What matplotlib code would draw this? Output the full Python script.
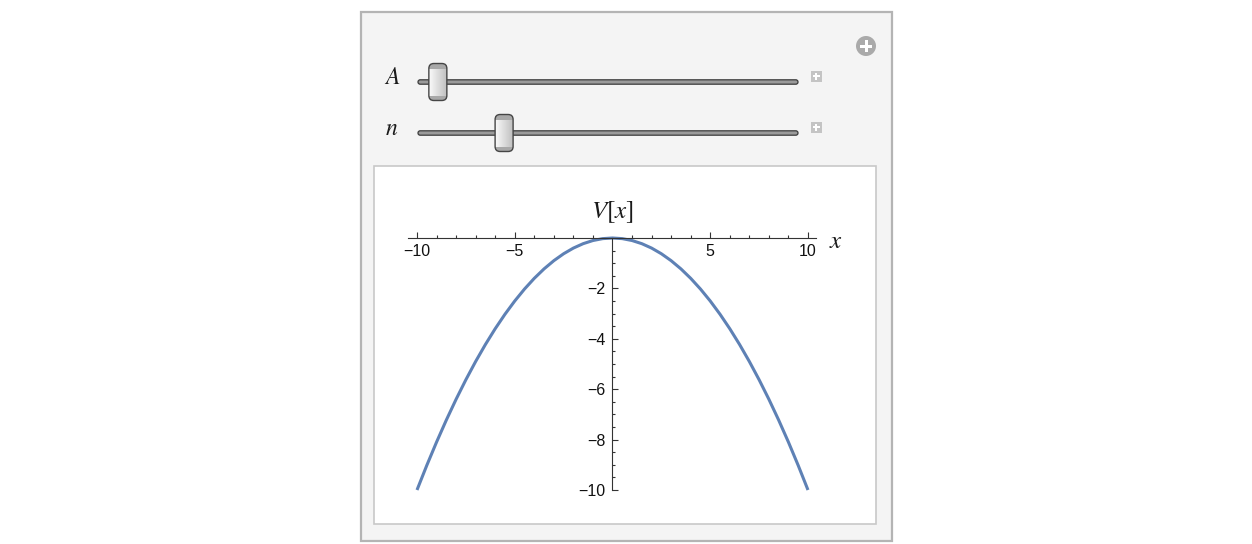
import matplotlib

matplotlib.use("Agg")
import matplotlib.pyplot as plt
import numpy as np
from matplotlib.patches import Circle, FancyBboxPatch, Rectangle

plt.rcParams["mathtext.fontset"] = "stix"

# V[x] sampled along the curve, every half unit
x_vals = [-10.0, -9.5, -9.0, -8.5, -8.0, -7.5, -7.0, -6.5, -6.0, -5.5, -5.0,
          -4.5, -4.0, -3.5, -3.0, -2.5, -2.0, -1.5, -1.0, -0.5, 0.0,
          0.5, 1.0, 1.5, 2.0, 2.5, 3.0, 3.5, 4.0, 4.5, 5.0,
          5.5, 6.0, 6.5, 7.0, 7.5, 8.0, 8.5, 9.0, 9.5, 10.0]
v_vals = [-10.0, -9.025, -8.1, -7.225, -6.4, -5.625, -4.9, -4.225, -3.6, -3.025, -2.5,
          -2.025, -1.6, -1.225, -0.9, -0.625, -0.4, -0.225, -0.1, -0.025, 0.0,
          -0.025, -0.1, -0.225, -0.4, -0.625, -0.9, -1.225, -1.6, -2.025, -2.5,
          -3.025, -3.6, -4.225, -4.9, -5.625, -6.4, -7.225, -8.1, -9.025, -10.0]

# control sliders: label and thumb position along the track (0..1)
slider_labels = ["A", "n"]
slider_pos = [0.03, 0.213]

x_major = [-10, -5, 5, 10]
y_major = [-10, -8, -6, -4, -2]


def num(v):
    return f"{v}".replace("-", "\u2212")


W, H = 1252, 544
fig = plt.figure(figsize=(W / 100, H / 100), dpi=100)
fig.patch.set_facecolor("white")

# --- panel chrome, drawn in pixel coordinates ---
ui = fig.add_axes([0, 0, 1, 1], zorder=0)
ui.set_xlim(0, W)
ui.set_ylim(H, 0)
ui.axis("off")

ui.add_patch(Rectangle((360.5, 11.5), 531, 529, fc="#f4f4f4", ec="#b4b4b4", lw=1.6))
ui.add_patch(Rectangle((373.5, 165.5), 502, 358, fc="white", ec="#c8c8c8", lw=1.2))

# settings button
ui.add_patch(Circle((866, 46), 10, fc="#aaaaaa", ec="none"))
ui.add_patch(Rectangle((860, 44.5), 12, 3, fc="white", ec="none"))
ui.add_patch(Rectangle((864.5, 40), 3, 12, fc="white", ec="none"))

grad = np.linspace(0, 1, 64).reshape(1, -1)
thumb_cmap = matplotlib.colors.LinearSegmentedColormap.from_list("thumb", ["#fafafa", "#c0c0c0"])
track_x0, track_x1, thumb_w = 418, 798, 18
for i, (lab, pos) in enumerate(zip(slider_labels, slider_pos)):
    yc = 82 + i * 51
    ui.text(392, yc - 5, f"${lab}$", ha="center", va="center", fontsize=17, color="#1a1a1a")
    ui.add_patch(FancyBboxPatch((track_x0, yc - 2.2), track_x1 - track_x0, 4.4,
                                boxstyle="round,pad=0,rounding_size=2.2",
                                fc="#9a9a9a", ec="#3c3c3c", lw=0.9))
    cx = track_x0 + thumb_w / 2 + pos * (track_x1 - track_x0 - thumb_w)
    thumb = FancyBboxPatch((cx - thumb_w / 2, yc - 18.5), thumb_w, 37,
                           boxstyle="round,pad=0,rounding_size=5",
                           fc="none", ec="#454545", lw=1.0, zorder=3)
    ui.add_patch(thumb)
    im = ui.imshow(grad, cmap=thumb_cmap, aspect="auto",
                   extent=(cx - thumb_w / 2, cx + thumb_w / 2, yc + 18.5, yc - 18.5), zorder=2)
    im.set_clip_path(thumb)
    for y0 in (yc - 18.5, yc + 13.5):
        band = ui.add_patch(Rectangle((cx - thumb_w / 2, y0), thumb_w, 5,
                                      fc="#a8a8a8", ec="none", zorder=2.5))
        band.set_clip_path(thumb)
    # increment button
    ui.add_patch(Rectangle((810.5, yc - 11.5), 11, 11, fc="#c4c4c4", ec="none"))
    ui.add_patch(Rectangle((812.5, yc - 6.8), 7, 1.6, fc="white", ec="none"))
    ui.add_patch(Rectangle((815.2, yc - 9.5), 1.6, 7, fc="white", ec="none"))
ui.set_xlim(0, W)
ui.set_ylim(H, 0)

# --- the plot ---
px_l, px_r, px_t, px_b = 408, 816, 238, 490
ax = fig.add_axes([px_l / W, (H - px_b) / H, (px_r - px_l) / W, (px_b - px_t) / H], zorder=1)
ax.patch.set_visible(False)
ax.plot(x_vals, v_vals, color="#5e81b5", lw=2.2, clip_on=False, solid_capstyle="butt")
ax.set_xlim(-10.46, 10.41)
ax.set_ylim(-10, 0)

for side in ("top", "right"):
    ax.spines[side].set_visible(False)
ax.spines["left"].set_position(("data", 0))
ax.spines["bottom"].set_position(("data", 0))
for side in ("left", "bottom"):
    ax.spines[side].set_color("#333333")
    ax.spines[side].set_linewidth(0.8)

ax.set_xticks(x_major)
ax.set_xticks([v for v in range(-10, 11) if v % 5], minor=True)
ax.set_yticks(y_major)
ax.set_yticks([v / 2 for v in range(-20, 0) if v % 4], minor=True)
ax.set_xticklabels([num(v) for v in x_major])
ax.set_yticklabels([num(v) for v in y_major])
ax.tick_params(which="both", direction="in", color="#333333", width=0.8)
ax.tick_params(which="major", length=4, labelsize=11.5, labelcolor="#111111")
ax.tick_params(which="minor", length=2.3)
ax.tick_params(axis="x", pad=4.5)
ax.tick_params(axis="y", pad=5)
for t in ax.get_xticklabels() + ax.get_yticklabels():
    t.set_family("Liberation Sans")

fig.text(612 / W, 1 - 212 / H, "$V[x]$", ha="center", va="center", fontsize=18, color="#1a1a1a")
fig.text(836 / W, 1 - 241 / H, "$x$", ha="center", va="center", fontsize=18, color="#1a1a1a")

fig.savefig("out.png", dpi=100)
